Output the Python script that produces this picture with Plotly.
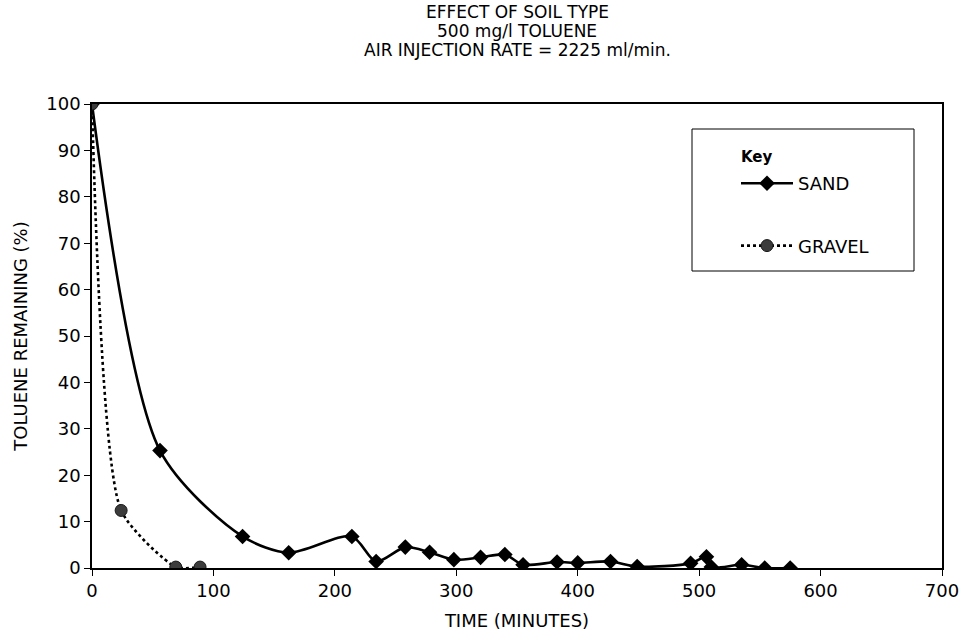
import plotly.graph_objects as go

# ---- data ----
sand_time = [0, 56, 124, 162, 214, 234, 258, 278, 298, 320, 340, 355, 383, 400, 427, 449, 493, 506, 510, 535, 554, 575]
sand_pct = [100, 25.3, 6.8, 3.3, 6.8, 1.4, 4.5, 3.4, 1.8, 2.3, 2.9, 0.7, 1.3, 1.1, 1.4, 0.3, 1.0, 2.4, 0.2, 0.7, 0.0, 0.0]

gravel_time = [0, 24, 69, 89]
gravel_pct = [100, 12.4, 0.2, 0.2]

title_lines = ["EFFECT OF SOIL TYPE", "500 mg/l TOLUENE", "AIR INJECTION RATE = 2225 ml/min."]
x_ticks = [0, 100, 200, 300, 400, 500, 600, 700]
y_ticks = [0, 10, 20, 30, 40, 50, 60, 70, 80, 90, 100]

FONT = "DejaVu Sans"

fig = go.Figure()
fig.add_trace(go.Scatter(
    x=sand_time, y=sand_pct, name="SAND", mode="lines+markers",
    line=dict(color="black", width=2.6, shape="spline", smoothing=0.8),
    marker=dict(symbol="diamond", size=12, color="black"),
    legendgroup="a",
))
fig.add_trace(go.Scatter(
    x=gravel_time, y=gravel_pct, name="GRAVEL", mode="lines+markers",
    line=dict(color="black", width=2.6, dash="dot", shape="spline", smoothing=0.6),
    marker=dict(symbol="circle", size=12, color="#3c3c3c", line=dict(color="#1a1a1a", width=1)),
    legendgroup="b",
))

W, H = 960, 633
ml, mr, mt, mb = 92, 18, 104, 65
pw, ph = W - ml - mr, H - mt - mb

def px_to_paper_x(px):
    return (px - ml) / pw

def px_to_paper_y(py):
    return (H - mb - py) / ph

annotations = []
for t, py in zip(title_lines, [12, 31, 50]):
    annotations.append(dict(
        text=t, xref="paper", yref="paper", x=px_to_paper_x(517), y=px_to_paper_y(py),
        xanchor="center", yanchor="middle", showarrow=False,
        font=dict(family=FONT, size=17, color="black"),
    ))
annotations.append(dict(
    text="<b>Key</b>", xref="paper", yref="paper", x=px_to_paper_x(739), y=px_to_paper_y(157),
    xanchor="left", yanchor="middle", showarrow=False,
    font=dict(family=FONT, size=15, color="black"),
))

fig.update_layout(
    width=W, height=H,
    margin=dict(l=ml, r=mr, t=mt, b=mb, autoexpand=False),
    paper_bgcolor="white", plot_bgcolor="white",
    font=dict(family=FONT, size=18, color="black"),
    annotations=annotations,
    showlegend=True,
    legend=dict(
        x=px_to_paper_x(736), y=px_to_paper_y(165), xanchor="left", yanchor="top",
        bgcolor="rgba(0,0,0,0)", borderwidth=0, itemwidth=52,
        font=dict(family=FONT, size=18), tracegroupgap=36, traceorder="grouped",
    ),
    shapes=[dict(type="rect", xref="paper", yref="paper",
                 x0=px_to_paper_x(692), x1=px_to_paper_x(914),
                 y0=px_to_paper_y(271), y1=px_to_paper_y(129),
                 line=dict(color="black", width=1))],
)

fig.update_xaxes(
    range=[0, 700], tickvals=x_ticks, ticks="outside", ticklen=6, tickcolor="black",
    showline=True, linecolor="black", linewidth=1.5, mirror=True, showgrid=False, zeroline=False,
    tickfont=dict(family=FONT, size=18), automargin=False,
    title=dict(text="TIME (MINUTES)", font=dict(family=FONT, size=18), standoff=14),
)
fig.update_yaxes(
    range=[0, 100], tickvals=y_ticks, ticks="outside", ticklen=6, tickcolor="black",
    showline=True, linecolor="black", linewidth=1.5, mirror=True, showgrid=False, zeroline=False,
    tickfont=dict(family=FONT, size=18), automargin=False,
    title=dict(text="TOLUENE REMAINING (%)", font=dict(family=FONT, size=18), standoff=14),
)

fig.write_html("out.html")
